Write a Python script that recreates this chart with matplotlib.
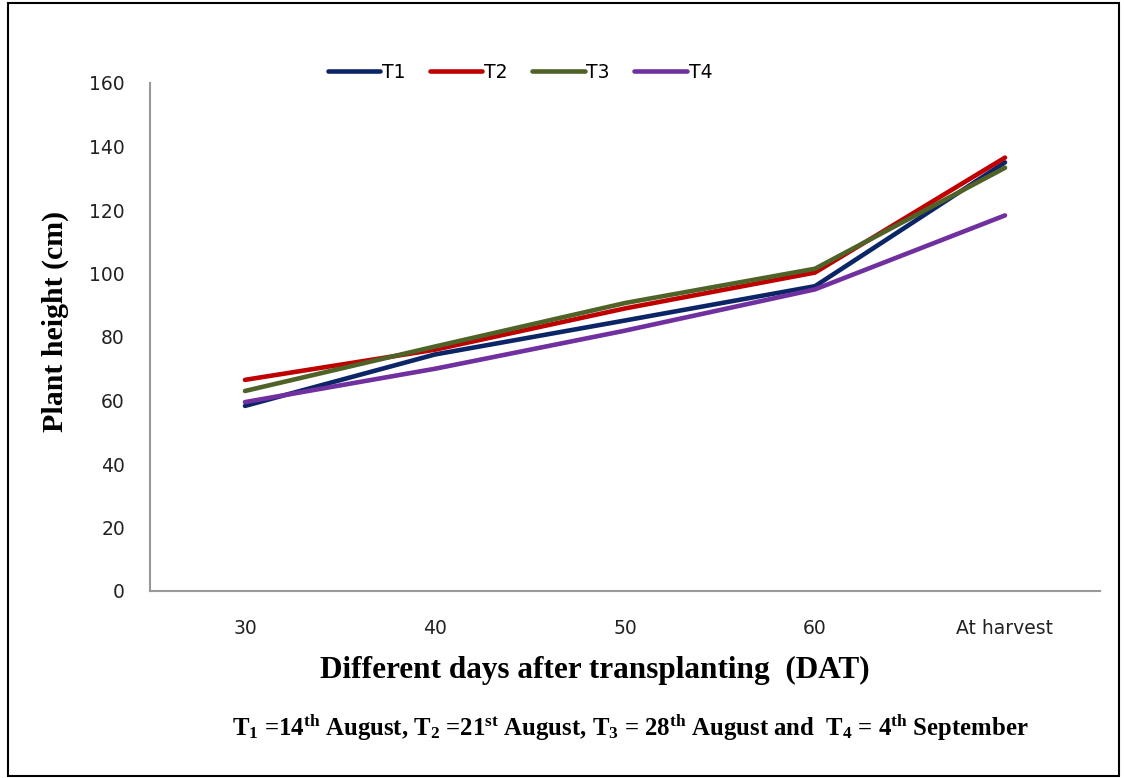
import matplotlib
matplotlib.use("Agg")
import matplotlib.pyplot as plt
from matplotlib.patches import Rectangle

categories = ["30", "40", "50", "60", "At harvest"]
T1 = [58.3, 74.5, 85.2, 96.0, 135.0]
T2 = [66.5, 76.0, 89.0, 100.3, 136.5]
T3 = [63.0, 77.0, 90.7, 101.5, 133.3]
T4 = [59.5, 70.0, 82.0, 95.0, 118.3]
series = {"T1": T1, "T2": T2, "T3": T3, "T4": T4}
colors = {"T1": "#0b2566", "T2": "#c00000", "T3": "#4f6228", "T4": "#7030a0"}
yticks = [0, 20, 40, 60, 80, 100, 120, 140, 160]

plt.rcParams['mathtext.fontset'] = 'custom'
plt.rcParams['mathtext.rm'] = 'Liberation Serif:bold'
plt.rcParams['mathtext.it'] = 'Liberation Serif:bold'
plt.rcParams['mathtext.bf'] = 'Liberation Serif:bold'

fig = plt.figure(figsize=(11.24, 7.78), dpi=100)
fig.patches.append(Rectangle((8/1124, 2/778), 1111/1124, 773/778, transform=fig.transFigure,
                             fill=False, edgecolor="black", linewidth=1.5))
ax = fig.add_axes([150/1124, 1-591/778, 950/1124, 508/778])

x = list(range(len(categories)))
for name, vals in series.items():
    ax.plot(x, vals, color=colors[name], linewidth=3.3, label=name, solid_capstyle='round')

ax.set_xlim(-0.5, len(categories) - 0.5)
ax.set_ylim(0, 160)
ax.set_yticks(yticks)
ax.set_xticks(x)
ax.set_xticklabels(categories)
ax.tick_params(length=0, labelsize=13.5, colors="#222222", labelfontfamily="DejaVu Sans")
ax.tick_params(axis='y', pad=18)
ax.tick_params(axis='x', pad=20)
for s in ["top", "right"]:
    ax.spines[s].set_visible(False)
for s in ["left", "bottom"]:
    ax.spines[s].set_color("#999999")
    ax.spines[s].set_linewidth(1.5)

ax.set_ylabel("Plant height (cm)", fontfamily="Liberation Serif", fontweight="bold", fontsize=21.5)
ax.yaxis.set_label_coords((55 - 150) / 950, (591 - 321) / 508)
ax.set_xlabel("Different days after transplanting  (DAT)", fontfamily="Liberation Serif",
              fontweight="bold", fontsize=22.5)
ax.xaxis.set_label_coords((595 - 150) / 950, -(670 - 591) / 508)
ax.xaxis.label.set_va("center")
ax.yaxis.label.set_va("center")

leg = ax.legend(loc="center", bbox_to_anchor=(520/1124, 1-72/778), bbox_transform=fig.transFigure,
                ncol=4, frameon=False, prop={"family": "DejaVu Sans", "size": 13.5},
                handlelength=2.8, handletextpad=0.1, columnspacing=1.3)

fig.text(630/1124, 1-727/778,
         r"T$_1$ =14$^{\mathrm{th}}$ August, T$_2$ =21$^{\mathrm{st}}$ August, T$_3$ = 28$^{\mathrm{th}}$ August and  T$_4$ = 4$^{\mathrm{th}}$ September",
         ha="center", va="center", fontfamily="Liberation Serif", fontweight="bold", fontsize=17.8)

fig.savefig("out.png", dpi=100)
